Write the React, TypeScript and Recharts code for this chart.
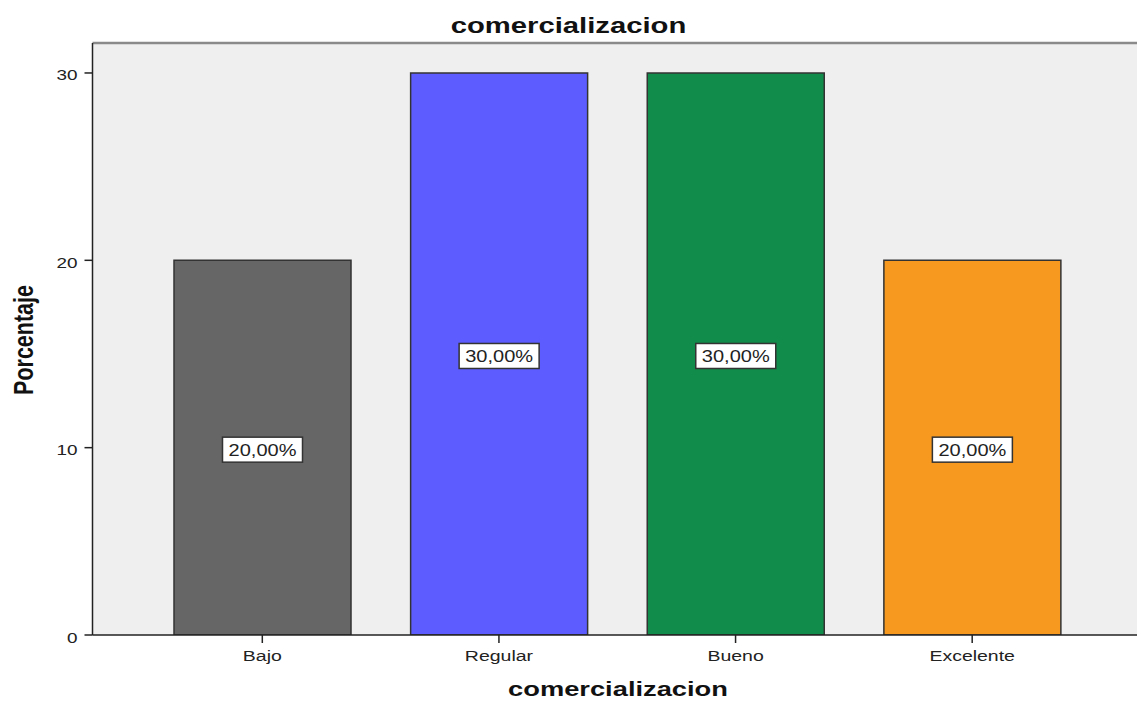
import React from "react";
import { BarChart, Bar, XAxis, YAxis, CartesianGrid, Cell, LabelList, ReferenceLine } from "recharts";

const categories = ["Bajo", "Regular", "Bueno", "Excelente"];
const percentages = [20, 30, 30, 20];
const valueLabels = ["20,00%", "30,00%", "30,00%", "20,00%"];
const barColors = ["#666666", "#5c5cff", "#118c4a", "#f7991f"];
const yTicks = [0, 10, 20, 30];
const yMax = 31.6;

const data = categories.map((name, i) => ({ name, value: percentages[i], label: valueLabels[i] }));

const FONT = "'Liberation Sans', Arial, sans-serif";
const STRETCH = 1.3;

const XTick = (props: any) => {
  const { x, y, payload } = props;
  return (
    <text
      transform={`translate(${x}, ${y + 16}) scale(${STRETCH}, 1)`}
      textAnchor="middle"
      fontFamily={FONT}
      fontSize={15}
      fill="#222"
    >
      {payload.value}
    </text>
  );
};

const YTick = (props: any) => {
  const { x, y, payload } = props;
  return (
    <text
      transform={`translate(${x - 5}, ${y + 7.5}) scale(1.26, 1)`}
      textAnchor="end"
      fontFamily={FONT}
      fontSize={15}
      fill="#222"
    >
      {payload.value}
    </text>
  );
};

const ValueBox = (props: any) => {
  const { x, y, width, height, value } = props;
  const cx = x + width / 2;
  const cy = y + height / 2;
  return (
    <g>
      <rect x={cx - 40} y={cy - 10.5} width={80} height={25} fill="#ffffff" stroke="#333" strokeWidth={1.5} />
      <text
        transform={`translate(${cx}, ${cy + 8.5}) scale(1.25, 1)`}
        textAnchor="middle"
        fontFamily={FONT}
        fontSize={16}
        fill="#222"
      >
        {value}
      </text>
    </g>
  );
};

export default function App() {
  return (
    <div style={{ position: "absolute", left: 0, top: 0, width: 1137, height: 702, overflow: "hidden", background: "#fff" }}>
      <BarChart
        width={1142}
        height={702}
        data={data}
        margin={{ top: 43, right: 0, bottom: 37, left: 0 }}
        barSize={177}
      >
        <CartesianGrid fill="#efefef" stroke="none" horizontal={false} vertical={false} />
        <ReferenceLine y={yMax} stroke="#8a8a8a" strokeWidth={2.5} />
        <XAxis
          dataKey="name"
          height={30}
          padding={{ left: 51.5, right: 51.5 }}
          axisLine={{ stroke: "#222", strokeWidth: 1.5 }}
          tickLine={{ stroke: "#222", strokeWidth: 1.5 }}
          tickSize={8}
          tick={<XTick />}
          interval={0}
        />
        <YAxis
          width={92.5}
          domain={[0, yMax]}
          ticks={yTicks}
          axisLine={{ stroke: "#222", strokeWidth: 1.5 }}
          tickLine={{ stroke: "#222", strokeWidth: 1.5 }}
          tickSize={8}
          tick={<YTick />}
          allowDataOverflow
        />
        <Bar dataKey="value" stroke="#333" strokeWidth={1.5} isAnimationActive={false}>
          {data.map((d, i) => (
            <Cell key={d.name} fill={barColors[i]} />
          ))}
          <LabelList dataKey="label" content={<ValueBox />} />
        </Bar>
      </BarChart>
      <svg
        width={1137}
        height={702}
        style={{ position: "absolute", left: 0, top: 0, pointerEvents: "none" }}
      >
        <text
          transform={`translate(568.5, 32.5) scale(${STRETCH}, 1)`}
          textAnchor="middle"
          fontFamily={FONT}
          fontWeight="bold"
          fontSize={22.5}
          fill="#111"
        >
          comercializacion
        </text>
        <text
          transform={`translate(618, 696) scale(${STRETCH}, 1)`}
          textAnchor="middle"
          fontFamily={FONT}
          fontWeight="bold"
          fontSize={21}
          fill="#111"
        >
          comercializacion
        </text>
        <text
          transform={`translate(33, 340) rotate(-90) scale(1, ${STRETCH})`}
          textAnchor="middle"
          fontFamily={FONT}
          fontWeight="bold"
          fontSize={21.5}
          fill="#111"
        >
          Porcentaje
        </text>
      </svg>
    </div>
  );
}
